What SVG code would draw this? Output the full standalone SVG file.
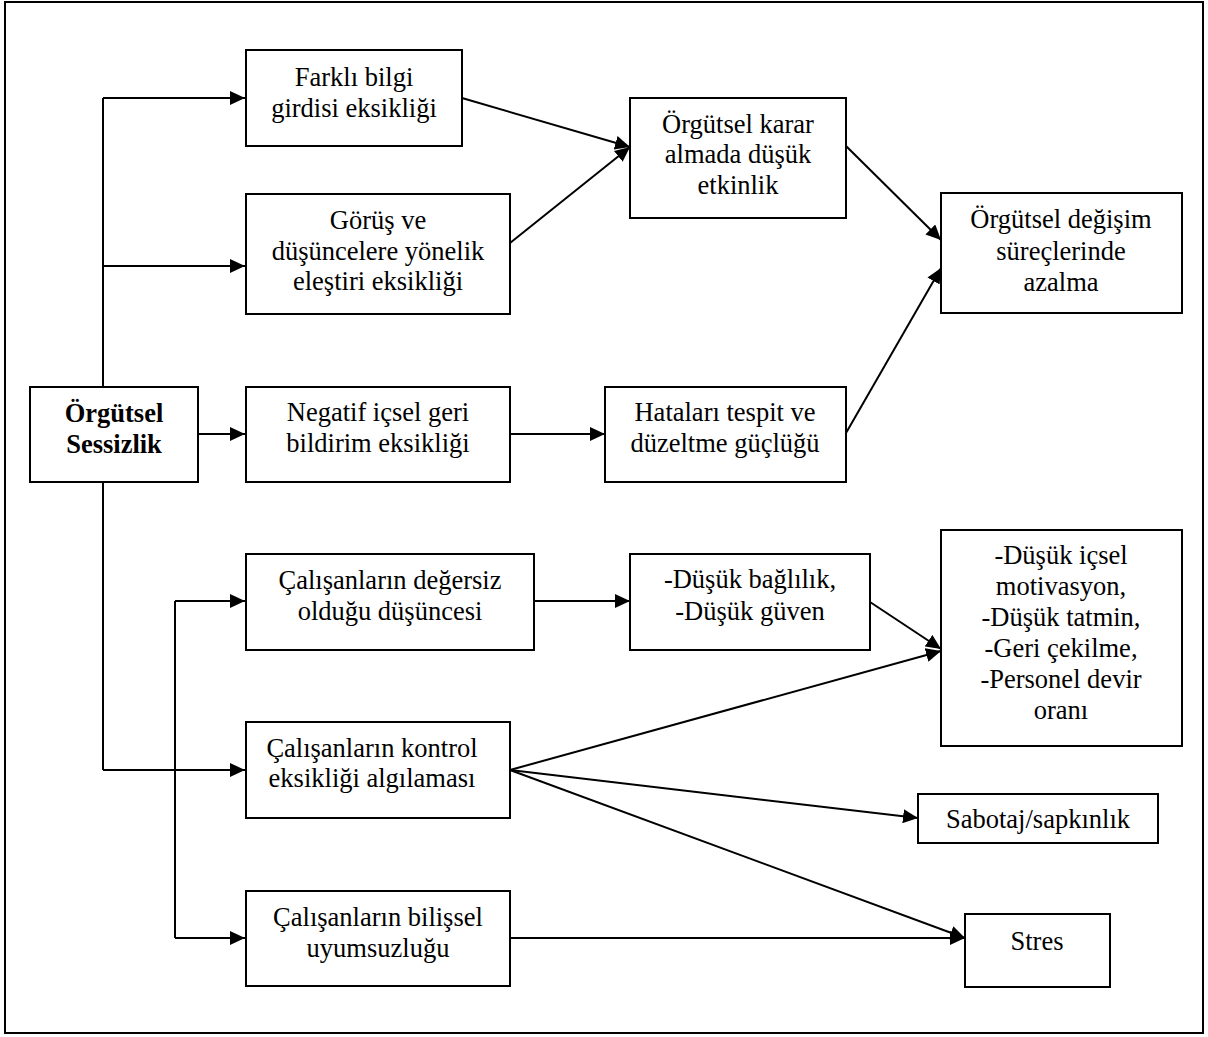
<svg xmlns="http://www.w3.org/2000/svg" width="1208" height="1037" viewBox="0 0 1208 1037">
<style>
.box{fill:#fff;stroke:#000;stroke-width:2}
.t{font-family:"Liberation Serif","Times New Roman",serif;font-size:26.5px;fill:#000;text-anchor:middle}
.b{font-weight:bold}
.c{fill:none;stroke:#000;stroke-width:2}
</style>
<defs>
<marker id="ah" markerUnits="userSpaceOnUse" markerWidth="16" markerHeight="14" refX="15" refY="7" orient="auto">
<path d="M0,0 L15,7 L0,14 z" fill="#000"/>
</marker>
</defs>
<rect x="5" y="2" width="1198" height="1031" fill="#fff" stroke="#000" stroke-width="2"/>
<g id="connectors">
<path class="c" d="M103,98 V770"/>
<path class="c" d="M103,98 H245" marker-end="url(#ah)"/>
<path class="c" d="M103,266 H245" marker-end="url(#ah)"/>
<path class="c" d="M103,770 H245" marker-end="url(#ah)"/>
<path class="c" d="M198,434 H245" marker-end="url(#ah)"/>
<path class="c" d="M175,601 V938"/>
<path class="c" d="M175,601 H245" marker-end="url(#ah)"/>
<path class="c" d="M175,938 H245" marker-end="url(#ah)"/>
<path class="c" d="M462,98 L630,147" marker-end="url(#ah)"/>
<path class="c" d="M510,243 L630,147" marker-end="url(#ah)"/>
<path class="c" d="M846,146 L941,240" marker-end="url(#ah)"/>
<path class="c" d="M846,433 L941,268" marker-end="url(#ah)"/>
<path class="c" d="M510,434 H605" marker-end="url(#ah)"/>
<path class="c" d="M534,601 H630" marker-end="url(#ah)"/>
<path class="c" d="M870,602 L941,649" marker-end="url(#ah)"/>
<path class="c" d="M510,770 L941,651" marker-end="url(#ah)"/>
<path class="c" d="M510,770 L918,818" marker-end="url(#ah)"/>
<path class="c" d="M510,770 L965,938" marker-end="url(#ah)"/>
<path class="c" d="M510,938 H965" marker-end="url(#ah)"/>
</g>
<g id="n-sessizlik">
<rect class="box" x="30" y="387" width="168" height="95"/>
<text class="t b" x="114" y="422">Örgütsel</text>
<text class="t b" x="114" y="453">Sessizlik</text>
</g>
<g id="n-farkli">
<rect class="box" x="246" y="50" width="216" height="96"/>
<text class="t" x="354" y="86">Farklı bilgi</text>
<text class="t" x="354" y="117">girdisi eksikliği</text>
</g>
<g id="n-gorus">
<rect class="box" x="246" y="194" width="264" height="120"/>
<text class="t" x="378" y="229">Görüş ve</text>
<text class="t" x="378" y="260">düşüncelere yönelik</text>
<text class="t" x="378" y="290">eleştiri eksikliği</text>
</g>
<g id="n-negatif">
<rect class="box" x="246" y="387" width="264" height="95"/>
<text class="t" x="378" y="421">Negatif içsel geri</text>
<text class="t" x="378" y="452">bildirim eksikliği</text>
</g>
<g id="n-degersiz">
<rect class="box" x="246" y="554" width="288" height="96"/>
<text class="t" x="390" y="589">Çalışanların değersiz</text>
<text class="t" x="390" y="620">olduğu düşüncesi</text>
</g>
<g id="n-kontrol">
<rect class="box" x="246" y="722" width="264" height="96"/>
<text class="t" x="372" y="757">Çalışanların kontrol</text>
<text class="t" x="372" y="787">eksikliği algılaması</text>
</g>
<g id="n-bilissel">
<rect class="box" x="246" y="891" width="264" height="95"/>
<text class="t" x="378" y="926">Çalışanların bilişsel</text>
<text class="t" x="378" y="957">uyumsuzluğu</text>
</g>
<g id="n-karar">
<rect class="box" x="630" y="98" width="216" height="120"/>
<text class="t" x="738" y="133">Örgütsel karar</text>
<text class="t" x="738" y="163">almada düşük</text>
<text class="t" x="738" y="194">etkinlik</text>
</g>
<g id="n-hatalar">
<rect class="box" x="605" y="387" width="241" height="95"/>
<text class="t" x="725" y="421">Hataları tespit ve</text>
<text class="t" x="725" y="452">düzeltme güçlüğü</text>
</g>
<g id="n-degisim">
<rect class="box" x="941" y="193" width="241" height="120"/>
<text class="t" x="1061" y="228">Örgütsel değişim</text>
<text class="t" x="1061" y="260">süreçlerinde</text>
<text class="t" x="1061" y="291">azalma</text>
</g>
<g id="n-baglilik">
<rect class="box" x="630" y="554" width="240" height="96"/>
<text class="t" x="750" y="588">-Düşük bağlılık,</text>
<text class="t" x="750" y="620">-Düşük güven</text>
</g>
<g id="n-motivasyon">
<rect class="box" x="941" y="530" width="241" height="216"/>
<text class="t" x="1061" y="564">-Düşük içsel</text>
<text class="t" x="1061" y="595">motivasyon,</text>
<text class="t" x="1061" y="626">-Düşük tatmin,</text>
<text class="t" x="1061" y="657">-Geri  çekilme,</text>
<text class="t" x="1061" y="688">-Personel devir</text>
<text class="t" x="1061" y="719">oranı</text>
</g>
<g id="n-sabotaj">
<rect class="box" x="918" y="794" width="240" height="49"/>
<text class="t" x="1038" y="828">Sabotaj/sapkınlık</text>
</g>
<g id="n-stres">
<rect class="box" x="965" y="914" width="145" height="73"/>
<text class="t" x="1037" y="950">Stres</text>
</g>
</svg>
